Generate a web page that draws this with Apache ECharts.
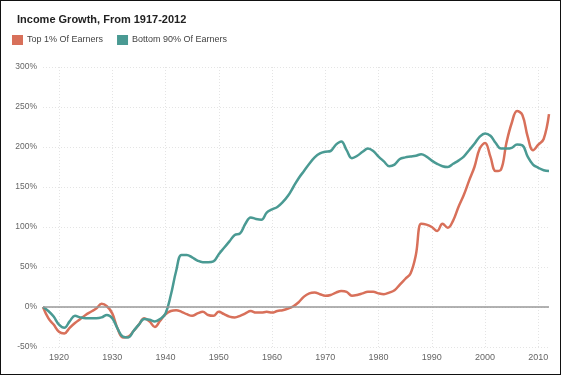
<!DOCTYPE html>
<html>
<head>
<meta charset="utf-8">
<script src="https://cdn.jsdelivr.net/npm/echarts@6/dist/echarts.min.js"></script>
<style>
  html, body { margin: 0; padding: 0; background: #fff; }
  #chart { position: absolute; left: 0; top: 0; width: 562px; height: 376px; }
  #frame { position: absolute; left: 0; top: 0; width: 561px; height: 375px; box-sizing: border-box; border: 1px solid #111; pointer-events: none; }
</style>
</head>
<body>
<div id="chart"></div>
<div id="frame"></div>
<script>
const titleText = 'Income Growth, From 1917-2012';
const seriesNames = ['Top 1% Of Earners', 'Bottom 90% Of Earners'];
const years = [];
for (let y = 1917; y <= 2012; y++) years.push(y);

const top1 = [
  0, -14, -22, -31, -33, -26, -20, -15, -10, -6,
  -2, 4, 1, -8, -27, -38, -37, -30, -22, -14,
  -18, -25, -17, -9, -5, -4, -6, -9, -11, -8,
  -6, -10, -11, -6, -9, -12, -13, -11, -8, -5,
  -7, -7, -6, -7, -5, -4, -2, 1, 6, 13,
  17, 18, 16, 14, 15, 18, 20, 19, 14, 15,
  17, 19, 19, 17, 16, 18, 21, 28, 35, 42,
  65, 104, 103, 100, 95, 104, 99, 108, 125, 140,
  158, 175, 198, 205, 188, 170, 172, 205, 230, 245,
  240, 213, 196, 203, 210, 241
];
const bottom90 = [
  0, -5, -12, -22, -26, -18, -11, -13, -14, -14,
  -14, -13, -10, -14, -27, -37, -38, -30, -22, -15,
  -16, -18, -15, -8, 15, 45, 65, 65, 62, 58,
  56, 56, 57, 66, 74, 82, 90, 92, 104, 112,
  110, 109, 118, 122, 125, 131, 139, 150, 161, 170,
  179, 187, 192, 194, 195, 203, 207, 196, 186, 189,
  194, 198, 195, 188, 182, 176, 178, 185, 187, 188,
  189, 191, 188, 183, 179, 176, 175, 179, 183, 188,
  196, 204, 213, 217, 214, 205, 198, 198, 199, 203,
  202, 188, 178, 174, 171, 170
];
const yTicks = { min: -50, max: 300, interval: 50 };
const colors = ['#d8705a', '#4a9a93'];

const chart = echarts.init(document.getElementById('chart'), null, { renderer: 'canvas' });
const decade = (idx, val) => Number(val) % 10 === 0;
chart.setOption({
  animation: false,
  backgroundColor: '#fff',
  color: colors,
  title: {
    text: titleText,
    left: 12, top: 9,
    textStyle: { fontFamily: 'Liberation Sans', fontSize: 11, fontWeight: 'bold', color: '#222' }
  },
  legend: {
    data: seriesNames,
    left: 12, top: 35,
    icon: 'rect',
    itemWidth: 11, itemHeight: 10,
    itemGap: 14,
    textStyle: { fontFamily: 'Liberation Sans', fontSize: 9, color: '#444', padding: [0, 0, 0, -1] },
    padding: 0
  },
  grid: { left: 43, right: 13, top: 67, bottom: 29, containLabel: false },
  xAxis: {
    type: 'category',
    data: years,
    boundaryGap: false,
    axisLine: { show: false },
    axisTick: { show: false },
    axisLabel: { interval: decade, color: '#666', fontFamily: 'Liberation Sans', fontSize: 9, margin: 6 },
    splitLine: { show: true, interval: decade, lineStyle: { color: '#e4e4e4', type: [1, 2], width: 1 } }
  },
  yAxis: {
    type: 'value',
    min: yTicks.min, max: yTicks.max, interval: yTicks.interval,
    axisLine: { show: false },
    axisTick: { show: false },
    axisLabel: { formatter: '{value}%', color: '#666', fontFamily: 'Liberation Sans', fontSize: 8.5, margin: 6 },
    splitLine: { lineStyle: { color: '#e4e4e4', type: [1, 2], width: 1 } }
  },
  series: [
    {
      name: seriesNames[0], type: 'line', data: top1, smooth: 0.4, showSymbol: false,
      lineStyle: { width: 2.5, color: colors[0] },
      markLine: {
        silent: true, symbol: 'none', label: { show: false },
        lineStyle: { color: '#999', type: 'solid', width: 1.5 },
        data: [{ yAxis: 0 }]
      },
      z: 2
    },
    {
      name: seriesNames[1], type: 'line', data: bottom90, smooth: 0.4, showSymbol: false,
      lineStyle: { width: 2.5, color: colors[1] },
      z: 3
    }
  ]
});
</script>
</body>
</html>
